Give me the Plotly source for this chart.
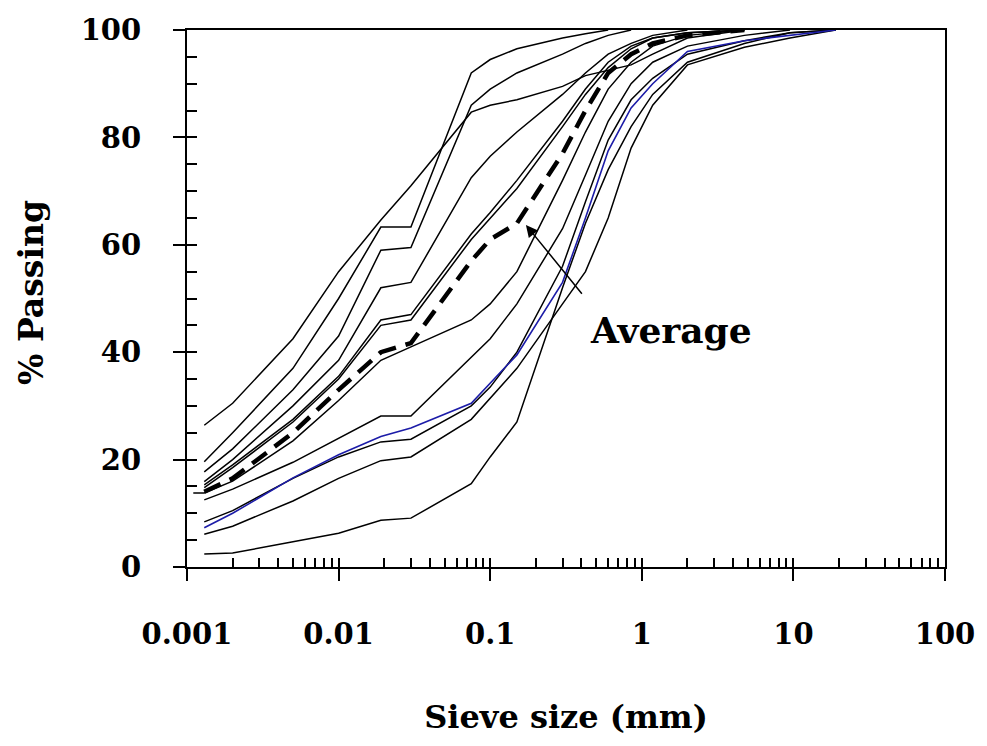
import math
import plotly.graph_objects as go

# Sieve sizes (mm) shared by the curves
SIEVE = [0.0013, 0.002, 0.005, 0.01, 0.019, 0.03, 0.075, 0.1, 0.15, 0.3,
         0.425, 0.6, 0.85, 1.18, 2.0, 4.75, 9.5, 19.0]

# % passing for each sample
S1 = [26.4, 30.5, 42.5, 55, 64.6, 71, 84.7, 86, 87, 89.5, 91.5, 92.5, 93.5, 95.5, 98.5, 100]
S2 = [19.6, 25, 37, 50, 63.3, 63.3, 92, 94.5, 96.5, 98.5, 99.3, 100]
S3 = [17.7, 22, 33, 43, 59, 59.5, 86, 89, 92, 95.5, 97.5, 99, 100]
S4 = [15.9, 20, 30, 38.5, 52, 53, 72.5, 76.5, 81, 88, 92, 95.5, 97.5, 99, 100]
S5 = [15.3, 19, 27.5, 35.5, 46, 47, 62, 66, 72, 83, 89, 94, 97, 98.5, 99.5, 100]
S6 = [14.8, 18.5, 27, 35, 45, 46, 61, 65, 70.5, 82, 88, 93, 96.5, 98.5, 99.5, 100]
S7_X = [0.0011, 0.0013, 0.002, 0.005, 0.01, 0.019, 0.03, 0.075, 0.1, 0.15, 0.3,
        0.425, 0.6, 0.85, 1.18, 2.0, 4.75]
S7 = [13.8, 13.8, 16, 23.5, 31, 38.5, 41, 46, 49, 55, 72, 81, 89, 94, 97, 99, 100]
S8 = [12.5, 14.5, 19.5, 24, 28.1, 28.1, 39, 42.5, 49, 63, 73, 83, 90, 94, 97, 99, 100]
S9 = [8.4, 10.5, 16.5, 20.5, 23.3, 23.8, 30, 33.5, 40, 56, 68, 79.5, 87, 91, 95.5, 98, 99.5, 100]
BLUE = [7.3, 10, 16.6, 20.9, 24.3, 25.9, 30.5, 34.2, 39.5, 53, 65, 77.5, 85.5, 90, 96, 98, 99, 100]
S10 = [6.1, 7.6, 12.3, 16.5, 19.8, 20.5, 27.5, 31.5, 37, 49, 55, 65, 78, 86, 93.5, 96.8, 98.5, 100]
S11 = [2.4, 2.6, 4.7, 6.3, 8.7, 9.1, 15.5, 20.5, 27, 52, 64, 74, 82, 88, 94, 97.5, 99.5, 100]
AVERAGE = [14, 16.5, 25, 33, 40, 41.7, 57, 61, 64, 77, 85, 92, 95.5, 97.5, 99, 100]

X_TICKS = [0.001, 0.01, 0.1, 1, 10, 100]
X_TICKTEXT = ["0.001", "0.01", "0.1", "1", "10", "100"]

FONT = "DejaVu Serif"

fig = go.Figure()

black_series = [S1, S2, S3, S4, S5, S6, S8, S9, S10, S11]
for s in black_series:
    fig.add_trace(go.Scatter(x=SIEVE[:len(s)], y=s, mode="lines",
                             line=dict(color="black", width=1.5), showlegend=False))
fig.add_trace(go.Scatter(x=S7_X, y=S7, mode="lines",
                         line=dict(color="black", width=1.5), showlegend=False))
fig.add_trace(go.Scatter(x=SIEVE[:len(BLUE)], y=BLUE, mode="lines",
                         line=dict(color="#1c1ca8", width=1.6), showlegend=False))
fig.add_trace(go.Scatter(x=SIEVE[:len(AVERAGE)], y=AVERAGE, mode="lines",
                         line=dict(color="black", width=4.5, dash="18px,10px"), showlegend=False))

# helper trace for the inner tick axes
fig.add_trace(go.Scatter(x=[None], y=[None], xaxis="x2", yaxis="y2", showlegend=False))

minor_x = [m * 10 ** e for e in range(-3, 2) for m in range(1, 10)] + [100]

fig.update_layout(
    width=987, height=746,
    margin=dict(l=187, r=36, t=30, b=179),
    paper_bgcolor="white", plot_bgcolor="white",
    font=dict(family=FONT, color="black"),
    xaxis=dict(type="log", range=[-3, 2], showgrid=False, zeroline=False,
               showline=True, linecolor="black", linewidth=2, mirror=True,
               ticks="outside", ticklen=12, tickwidth=1.5, tickcolor="black",
               tickvals=X_TICKS, ticktext=X_TICKTEXT,
               tickfont=dict(family=FONT, size=29, weight="bold"),
               ticklabelstandoff=28,
               title=dict(text="Sieve size (mm)", standoff=56,
                          font=dict(family=FONT, size=32, weight="bold"))),
    yaxis=dict(range=[0, 100], dtick=20, showgrid=False, zeroline=False,
               showline=True, linecolor="black", linewidth=2, mirror=True,
               ticks="outside", ticklen=12, tickwidth=1.5, tickcolor="black",
               tickfont=dict(family=FONT, size=29, weight="bold"),
               ticklabelstandoff=26),
    xaxis2=dict(type="log", range=[-3, 2], overlaying="x", anchor="y",
                showgrid=False, zeroline=False, showline=False,
                ticks="inside", ticklen=9, tickwidth=1.5, tickcolor="black",
                tickvals=minor_x, showticklabels=False),
    yaxis2=dict(range=[0, 100], overlaying="y", anchor="x", dtick=5,
                showgrid=False, zeroline=False, showline=False,
                ticks="inside", ticklen=10, tickwidth=1.5, tickcolor="black",
                showticklabels=False),
    annotations=[
        dict(x=math.log10(0.172), y=63.7, xref="x", yref="y",
             ax=math.log10(0.41), ay=50.6, axref="x", ayref="y",
             text="", showarrow=True, arrowhead=2, arrowsize=1.6,
             arrowwidth=1.5, arrowcolor="black"),
        dict(x=math.log10(0.44), y=44.1, xref="x", yref="y",
             text="Average", showarrow=False, xanchor="left", yanchor="middle",
             font=dict(family=FONT, size=36, weight="bold", color="black")),
        dict(x=-0.206, y=0.512, xref="paper", yref="paper",
             text="% Passing", textangle=-90, showarrow=False,
             xanchor="center", yanchor="middle",
             font=dict(family=FONT, size=33, weight="bold", color="black")),
    ],
)

fig.write_html("out.html")
